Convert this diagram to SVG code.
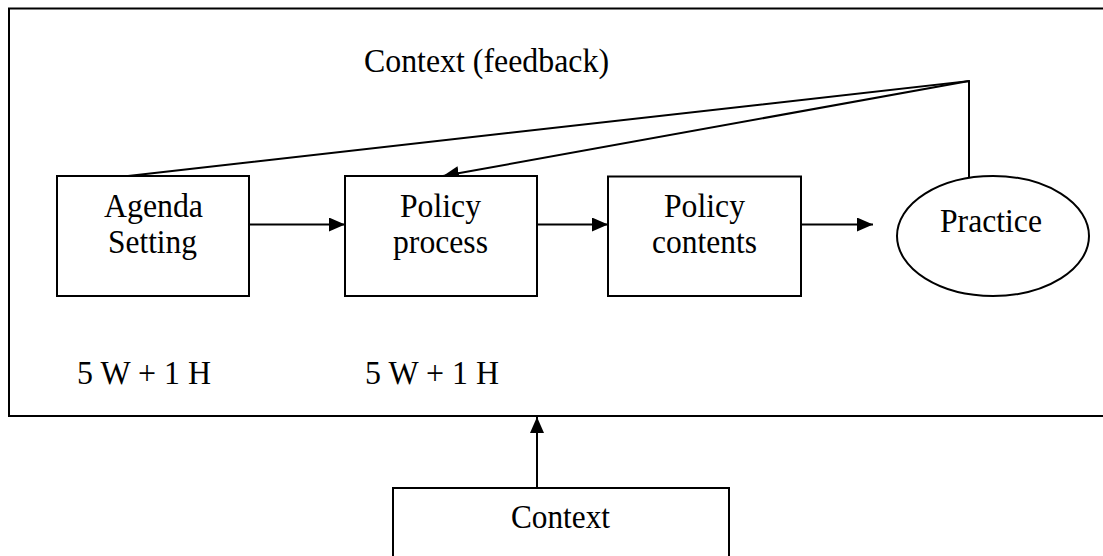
<svg xmlns="http://www.w3.org/2000/svg" width="1103" height="556" viewBox="0 0 1103 556">
<style>
text{font-family:"Liberation Serif","Times New Roman",serif;font-size:34px;fill:#000}
.c{text-anchor:middle}
.box{fill:#fff;stroke:#000;stroke-width:2}
.ln{fill:none;stroke:#000;stroke-width:2}
</style>
<defs>
<marker id="ah" viewBox="0 0 16 14" refX="16" refY="7" markerWidth="16" markerHeight="14" markerUnits="userSpaceOnUse" orient="auto">
<path d="M0,0 L16,7 L0,14 Z" fill="#000"/>
</marker>
</defs>
<rect width="1103" height="556" fill="#fff"/>
<g id="frame">
<rect x="9" y="8.5" width="1110" height="407.5" fill="none" stroke="#000" stroke-width="2"/>
<text x="364" y="72" textLength="245" lengthAdjust="spacingAndGlyphs">Context (feedback)</text>
<text x="77" y="384" textLength="134" lengthAdjust="spacingAndGlyphs">5 W + 1 H</text>
<text x="365" y="384" textLength="134" lengthAdjust="spacingAndGlyphs">5 W + 1 H</text>
</g>
<g id="connectors">
<polyline class="ln" points="128,176 969,81 969,177"/>
<line class="ln" x1="969" y1="81" x2="443" y2="176" marker-end="url(#ah)"/>
<line class="ln" x1="249" y1="224.5" x2="345" y2="224.5" marker-end="url(#ah)"/>
<line class="ln" x1="537" y1="224.5" x2="608" y2="224.5" marker-end="url(#ah)"/>
<line class="ln" x1="801" y1="224.5" x2="873" y2="224.5" marker-end="url(#ah)"/>
<line class="ln" x1="537" y1="488" x2="537" y2="417" marker-end="url(#ah)"/>
</g>
<g id="agenda">
<rect class="box" x="57" y="176" width="192" height="120"/>
<text x="104" y="217" textLength="99" lengthAdjust="spacingAndGlyphs">Agenda</text>
<text x="108" y="253" textLength="89" lengthAdjust="spacingAndGlyphs">Setting</text>
</g>
<g id="process">
<rect class="box" x="345" y="176" width="192" height="120"/>
<text x="400" y="217" textLength="81" lengthAdjust="spacingAndGlyphs">Policy</text>
<text x="393" y="253" textLength="95" lengthAdjust="spacingAndGlyphs">process</text>
</g>
<g id="contents">
<rect class="box" x="608" y="176.5" width="193" height="119.5"/>
<text x="664" y="217" textLength="81" lengthAdjust="spacingAndGlyphs">Policy</text>
<text x="652" y="253" textLength="105" lengthAdjust="spacingAndGlyphs">contents</text>
</g>
<g id="practice">
<ellipse class="box" cx="993" cy="236" rx="96" ry="60"/>
<text x="940" y="232" textLength="102" lengthAdjust="spacingAndGlyphs">Practice</text>
</g>
<g id="context">
<rect class="box" x="393" y="488" width="336" height="80"/>
<text x="511" y="528" textLength="99" lengthAdjust="spacingAndGlyphs">Context</text>
</g>
</svg>
